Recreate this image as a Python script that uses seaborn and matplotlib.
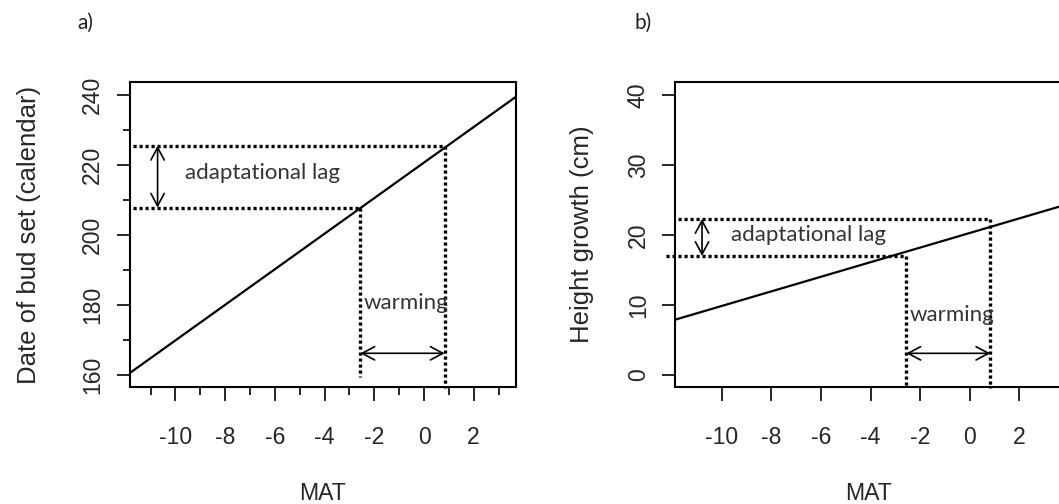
import matplotlib
matplotlib.use("Agg")
import matplotlib.pyplot as plt
import seaborn as sns
import pandas as pd

# Fitted clines: mean annual temperature (MAT) vs. trait
mat_a = [-11.85, 3.7]
budset_a = [160.5, 239.5]

mat_b = [-11.89, 3.75]
height_b = [7.9, 24.2]

# Current and future climate of the seed source
mat_now = -2.56
mat_future = 0.83

# Trait values that bracket the adaptational lag
lag_a = [207.8, 225.5]
lag_b = [17.0, 22.3]

xticks = [-10, -8, -6, -4, -2, 0, 2]
yticks_a = [160, 180, 200, 220, 240]
yticks_b = [0, 10, 20, 30, 40]

sns.set_theme(style="white")
plt.rcParams["font.family"] = ["Liberation Sans", "DejaVu Sans"]

W, H = 1059, 504
fig = plt.figure(figsize=(W / 100, H / 100), dpi=100)

ax_w = 386.5 / W
ax_bottom = 1 - 387 / H
ax_h = 305 / H
ax_a = fig.add_axes([129.5 / W, ax_bottom, ax_w, ax_h])
ax_b = fig.add_axes([675 / W, ax_bottom, ax_w, ax_h])

dot = dict(color="black", lw=2.4, linestyle=(0, (0.95, 0.85)), dash_capstyle="butt")
note_font = dict(family=["Lato", "DejaVu Sans"], fontsize=16, color="#333333")
arrow = dict(arrowstyle="<->,head_length=0.45,head_width=0.24", color="black",
             lw=1.2, shrinkA=0, shrinkB=0, mutation_scale=20)


def draw_panel(ax, mat, trait, lag, xlim, ylim, yticks, ylabel, lag_x,
               warm_y, lag_text_pos, warm_text_pos, vbottom, left_start,
               ylabelpad):
    df = pd.DataFrame({"MAT": mat, "trait": trait})
    sns.lineplot(data=df, x="MAT", y="trait", color="black", lw=1.6, ax=ax)
    ax.set_xlim(*xlim)
    ax.set_ylim(*ylim)

    # horizontal guides from the axis to the cline
    ax.plot([left_start[0], mat_now], [lag[0], lag[0]], clip_on=False, **dot)
    ax.plot([left_start[1], mat_future], [lag[1], lag[1]], clip_on=False, **dot)
    # vertical guides down to the MAT axis
    ax.plot([mat_now, mat_now], [lag[0], vbottom[0]], clip_on=False, **dot)
    ax.plot([mat_future, mat_future], [lag[1], vbottom[1]], clip_on=False, **dot)

    ax.annotate("", xy=(lag_x, lag[0]), xytext=(lag_x, lag[1]), arrowprops=arrow)
    ax.annotate("", xy=(mat_now, warm_y), xytext=(mat_future, warm_y),
                arrowprops=arrow)
    ax.text(*lag_text_pos, "adaptational lag", ha="left", va="center", **note_font)
    ax.text(*warm_text_pos, "warming", ha="left", va="center", **note_font)

    ax.set_xticks(xticks)
    ax.set_xticklabels([str(t) for t in xticks])
    ax.set_yticks(yticks)
    ax.set_yticklabels([str(t) for t in yticks], rotation=90, va="center")
    ax.tick_params(axis="x", which="major", length=10, width=1.2, pad=18,
                   labelsize=16.6, direction="out", bottom=True, color="black")
    ax.tick_params(axis="y", which="major", length=9.4, width=1.2, pad=8.7,
                   labelsize=16.6, direction="out", left=True, color="black")
    ax.set_xlabel("MAT", fontsize=16.6, labelpad=24)
    ax.set_ylabel(ylabel, fontsize=18.5, labelpad=ylabelpad)
    for s in ax.spines.values():
        s.set_visible(True)
        s.set_color("black")
        s.set_linewidth(1.5)
    ax.grid(False)


draw_panel(ax_a, mat_a, budset_a, lag_a, (-11.85, 3.7), (156.57, 243.71),
           yticks_a, "Date of bud set (calendar)", lag_x=-10.72, warm_y=166.2,
           lag_text_pos=(-9.6, 217.6), warm_text_pos=(-2.45, 180.5),
           vbottom=(159.5, 156.2), left_start=(-11.7, -11.7), ylabelpad=29)
ax_a.set_xticks([-11, -9, -7, -5, -3, -1, 1, 3], minor=True)
ax_a.set_yticks([170, 190, 210, 230], minor=True)
ax_a.tick_params(axis="x", which="minor", length=5.8, width=1.2, bottom=True,
                 direction="out", color="black")
ax_a.tick_params(axis="y", which="minor", length=5, width=1.2, left=True,
                 direction="out", color="black")

draw_panel(ax_b, mat_b, height_b, lag_b, (-11.89, 3.7), (-1.71, 41.86),
           yticks_b, "Height growth (cm)", lag_x=-10.8, warm_y=3.1,
           lag_text_pos=(-9.64, 20.0), warm_text_pos=(-2.42, 8.6),
           vbottom=(-1.9, -1.9), left_start=(-12.25, -11.75), ylabelpad=23.5)

fig.text(77 / W, 1 - 23 / H, "a)", ha="left", va="center",
         family=["Lato", "DejaVu Sans"], fontsize=15, color="#222222")
fig.text(635 / W, 1 - 23 / H, "b)", ha="left", va="center",
         family=["Lato", "DejaVu Sans"], fontsize=15, color="#222222")

fig.savefig("out.png", dpi=100, facecolor="white")
